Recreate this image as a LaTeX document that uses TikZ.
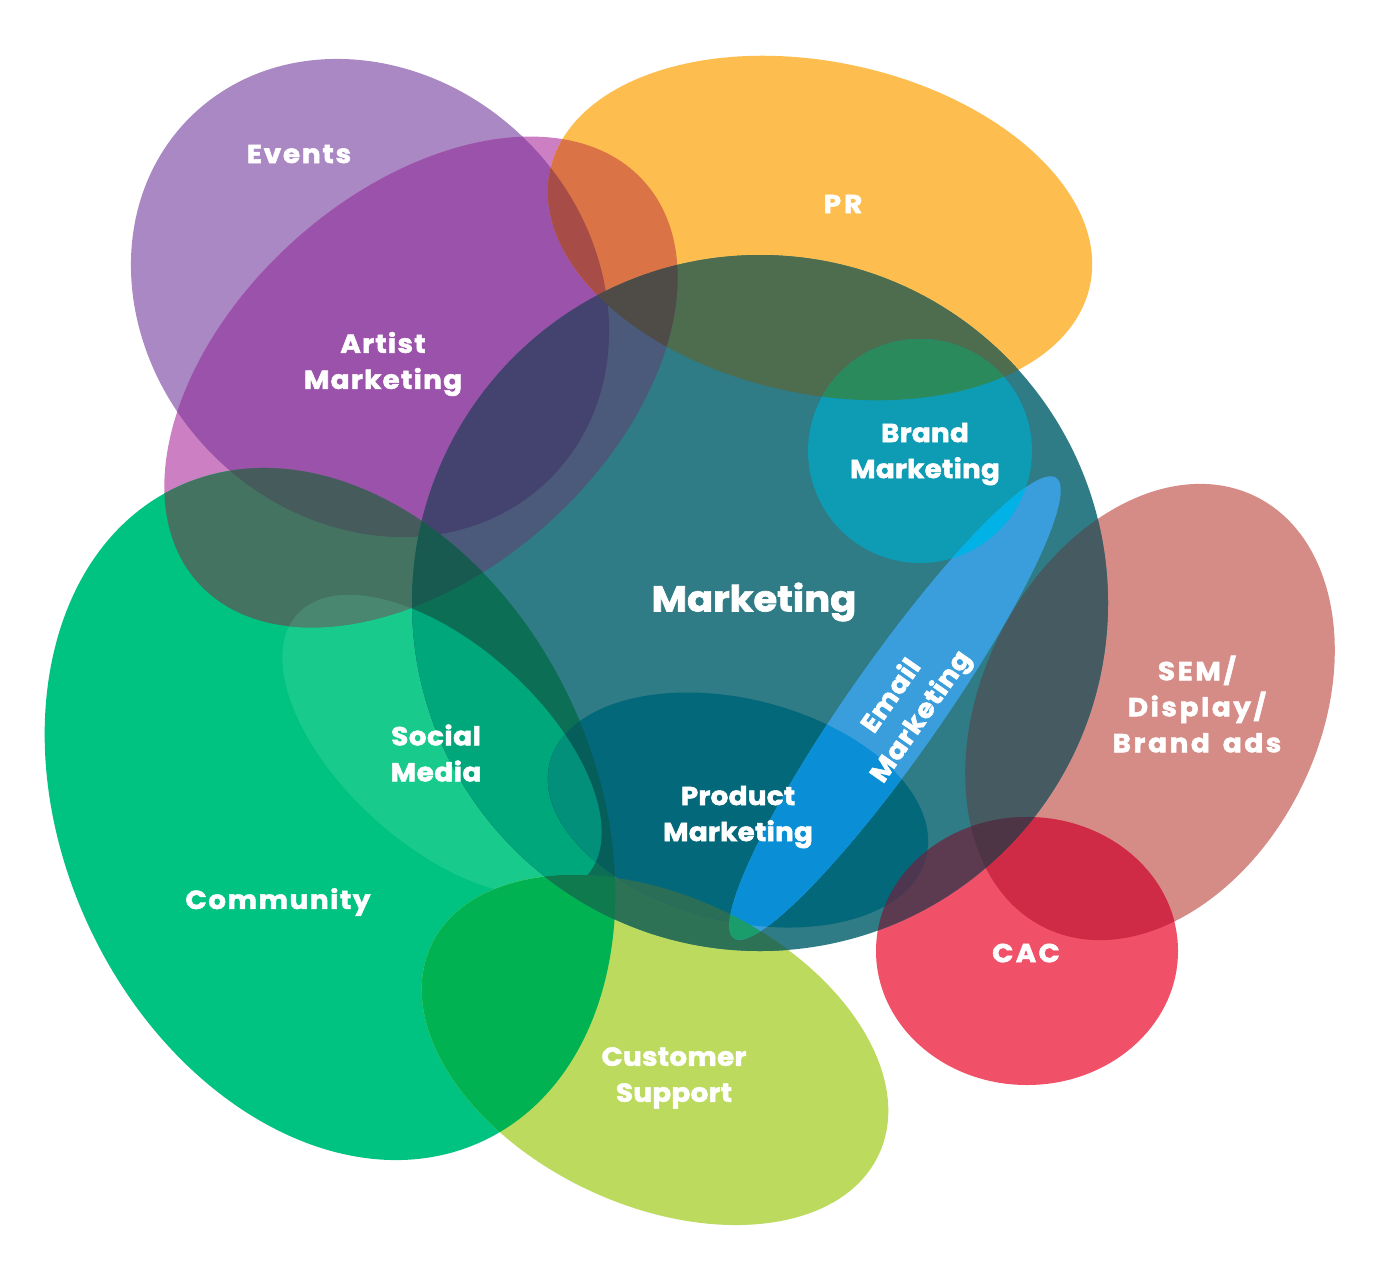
\documentclass[tikz,border=0pt]{standalone}
\usepackage{fontspec}
\setmainfont{Poppins}[BoldFeatures={FakeBold=2,FakeStretch=1.07}]
\definecolor{cEv}{HTML}{AA88C4}
\definecolor{cAr}{HTML}{CC80C3}
\definecolor{cEvAr}{HTML}{9A52AA}
\definecolor{cPR}{HTML}{FDBE4F}
\definecolor{cArPR}{HTML}{DA7446}
\definecolor{cEvArPR}{HTML}{A84C48}
\definecolor{cMk}{HTML}{2F7B86}
\definecolor{cMkPR}{HTML}{4D6D4E}
\definecolor{cMkAr}{HTML}{4B5A7B}
\definecolor{cMkArEv}{HTML}{444370}
\definecolor{cMkArPR}{HTML}{4F4B47}
\definecolor{cCo}{HTML}{00C281}
\definecolor{cCoAr}{HTML}{457362}
\definecolor{cEvArCo}{HTML}{465B5B}
\definecolor{cMkArCo}{HTML}{185A50}
\definecolor{cMkCo}{HTML}{0C6F55}
\definecolor{cSo}{HTML}{19CA8D}
\definecolor{cMkSo}{HTML}{00A77B}
\definecolor{cSoAr}{HTML}{4A8770}
\definecolor{cCS}{HTML}{BCDA5E}
\definecolor{cCSCo}{HTML}{00B251}
\definecolor{cMkCS}{HTML}{2E7255}
\definecolor{cMkCoCS}{HTML}{0F7A4E}
\definecolor{cPd}{HTML}{03687A}
\definecolor{cPdCo}{HTML}{065E5B}
\definecolor{cPdSo}{HTML}{02907A}
\definecolor{cPdCS}{HTML}{2B6E58}
\definecolor{cPdCA}{HTML}{4F3650}
\definecolor{cBr}{HTML}{0E9BB4}
\definecolor{cBrPR}{HTML}{2B8A5B}
\definecolor{cEm}{HTML}{3A9EDD}
\definecolor{cEmBr}{HTML}{00B2E6}
\definecolor{cEmPd}{HTML}{0A8FD6}
\definecolor{cEmSE}{HTML}{5D6E96}
\definecolor{cEmCS}{HTML}{1A9C6B}
\definecolor{cSE}{HTML}{D58B86}
\definecolor{cMkSE}{HTML}{465A62}
\definecolor{cCA}{HTML}{F05068}
\definecolor{cCASE}{HTML}{CF2A46}
\definecolor{cMkCA}{HTML}{5C3A4F}
\definecolor{cMkCASE}{HTML}{4E3546}
\newcommand\ovl[3]{\begin{scope}\clip #1;\fill[#3] #2;\end{scope}}
\newcommand\ovlt[4]{\begin{scope}\clip #1;\clip #2;\fill[#4] #3;\end{scope}}
\newcommand\lf[1]{\bfseries\fontsize{26}{36}\selectfont\addfontfeature{LetterSpace=#1}}
\def\pEv{(370,-298) ellipse [x radius=255, y radius=222, rotate=-45]}
\def\pAr{(421,-382) ellipse [x radius=300, y radius=190, rotate=42]}
\def\pPR{(820,-228) ellipse [x radius=276, y radius=166, rotate=-12]}
\def\pMk{(760,-603) circle [radius=348]}
\def\pBr{(920,-451) circle [radius=112]}
\def\pEm{(895,-708) ellipse [x radius=281, y radius=47, rotate=55]}
\def\pSE{(1150,-712) ellipse [x radius=240, y radius=169, rotate=64]}
\def\pCA{(1027,-951) ellipse [x radius=151, y radius=134]}
\def\pCo{(330,-814) ellipse [x radius=361, y radius=266, rotate=-65]}
\def\pSo{(442,-745) ellipse [x radius=195, y radius=100, rotate=-42]}
\def\pCS{(655,-1050) ellipse [x radius=247, y radius=155, rotate=-25]}
\def\pPd{(738,-810) ellipse [x radius=194, y radius=111, rotate=-14]}
\begin{document}
\begin{tikzpicture}[x=1pt,y=1pt,
  lab/.style={text=white,align=center,inner sep=0pt}]
\useasboundingbox (0,0) rectangle (1380,-1280);
\fill[white] (0,0) rectangle (1380,-1280);
% single shapes
\fill[cEv] \pEv;
\fill[cAr] \pAr;
\fill[cPR] \pPR;
\fill[cCo] \pCo;
\fill[cSo] \pSo;
\fill[cCS] \pCS;
\fill[cSE] \pSE;
\fill[cCA] \pCA;
\fill[cMk] \pMk;
% pair overlaps
\ovl{\pEv}{\pAr}{cEvAr}
\ovl{\pAr}{\pPR}{cArPR}
\ovl{\pCo}{\pAr}{cCoAr}
\ovl{\pSo}{\pAr}{cSoAr}
\ovl{\pCS}{\pCo}{cCSCo}
\ovl{\pCA}{\pSE}{cCASE}
\ovl{\pMk}{\pPR}{cMkPR}
\ovl{\pMk}{\pAr}{cMkAr}
\ovl{\pMk}{\pCo}{cMkCo}
\ovl{\pMk}{\pSo}{cMkSo}
\ovl{\pMk}{\pCS}{cMkCS}
\ovl{\pMk}{\pSE}{cMkSE}
\ovl{\pMk}{\pCA}{cMkCA}
% triple overlaps
\ovlt{\pEv}{\pAr}{\pPR}{cEvArPR}
\ovlt{\pEv}{\pAr}{\pCo}{cEvArCo}
\ovlt{\pMk}{\pAr}{\pEv}{cMkArEv}
\ovlt{\pMk}{\pAr}{\pPR}{cMkArPR}
\ovlt{\pMk}{\pAr}{\pCo}{cMkArCo}
\ovlt{\pMk}{\pCo}{\pCS}{cMkCoCS}
\ovlt{\pMk}{\pCA}{\pSE}{cMkCASE}
% shapes inside Marketing
\fill[cBr] \pBr;
\ovl{\pBr}{\pPR}{cBrPR}
\fill[cPd] \pPd;
\ovl{\pPd}{\pCo}{cPdCo}
\ovl{\pPd}{\pSo}{cPdSo}
\ovl{\pPd}{\pCS}{cPdCS}
\ovl{\pPd}{\pCA}{cPdCA}
\fill[cEm] \pEm;
\ovl{\pEm}{\pBr}{cEmBr}
\ovl{\pEm}{\pPd}{cEmPd}
\ovl{\pEm}{\pSE}{cEmSE}
\ovl{\pEm}{\pCS}{cEmCS}
% labels
\node[lab,font=\lf{7}] (events) at (299,-154) {Events};
\node[lab,font=\lf{5}] (artist) at (383,-364) {Artist\\Marketing};
\node[lab,font=\lf{12}] (pr) at (843,-204) {PR};
\node[lab,font=\lf{1}] (brand) at (925,-454) {Brand\\Marketing};
\node[lab,font=\bfseries\fontsize{36}{44}\selectfont] (mkt) at (754,-602) {Marketing};
\node[lab,font=\lf{3},rotate=55] (email) at (907,-707) {Email\\Marketing};
\node[lab,font=\lf{10}] (sem) at (1197,-704) {SEM/\\Display/\\Brand\hspace*{13pt}ads};
\node[lab,font=\lf{2}] (social) at (436,-753) {Social\\Media};
\node[lab,font=\lf{1}] (product) at (738,-817) {Product\\Marketing};
\node[lab,font=\lf{6}] (community) at (278,-902) {Community};
\node[lab,font=\lf{9}] (cac) at (1026,-953) {CAC};
\node[lab,font=\lf{1}] (cs) at (674,-1078) {Customer\\Support};
\end{tikzpicture}
\end{document}
